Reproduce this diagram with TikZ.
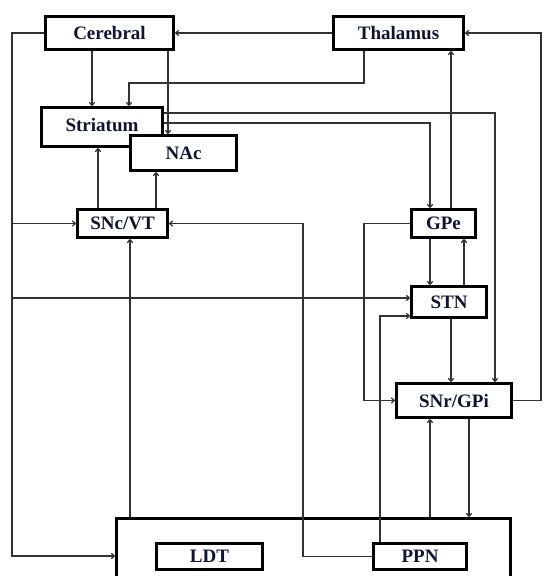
\documentclass[tikz,border=0pt]{standalone}
\usepackage{fontspec}
\setmainfont{Liberation Serif}
\usetikzlibrary{arrows.meta}
\definecolor{txt}{RGB}{15,20,55}
\definecolor{lin}{RGB}{50,50,50}
\tikzset{
  box/.style={draw=black, line width=3bp, fill=white, inner sep=0pt,
    text=txt, font=\fontsize{19bp}{21bp}\selectfont\bfseries},
  arr/.style={draw=lin, line width=1.2bp, -{To[length=4bp,width=6bp]}},
}
\begin{document}
\begin{tikzpicture}[x=1bp,y=-1bp]
\useasboundingbox (0,0) rectangle (544,576);
\fill[white] (0,0) rectangle (544,576);
\clip (0,0) rectangle (544,576);
% boxes
\node[box, minimum width=128bp, minimum height=33bp] (Cerebral) at (109.5,33) {Cerebral};
\node[box, minimum width=130bp, minimum height=33bp] (Thalamus) at (398.5,33) {Thalamus};
\node[box, minimum width=121bp, minimum height=39bp] (Striatum) at (102,127) {\raisebox{5bp}{Striatum}};
\node[box, minimum width=106bp, minimum height=35bp] (NAc) at (183.5,153) {NAc};
\node[box, minimum width=90bp, minimum height=28bp] (SNc) at (122.5,223.5) {SNc/VT};
\node[box, minimum width=64bp, minimum height=28bp] (GPe) at (443.5,223.5) {GPe};
\node[box, minimum width=75bp, minimum height=31bp] (STN) at (449,302) {STN};
\node[box, minimum width=115bp, minimum height=34bp] (SNr) at (454,400.5) {SNr/GPi};
\node[box, minimum width=394bp, minimum height=75bp] (Big) at (313.5,556) {};
\node[box, minimum width=106bp, minimum height=26bp] (LDT) at (209.5,556.5) {LDT};
\node[box, minimum width=93bp, minimum height=26bp] (PPN) at (420,556.5) {PPN};
% helper coordinates
\coordinate (xl) at (12,0);
\coordinate (xa) at (92,0);
\coordinate (xb) at (168,0);
\coordinate (xc) at (129,0);
\coordinate (xd) at (364,0);
\coordinate (xe) at (430,0);
\coordinate (xf) at (495,0);
\coordinate (xg) at (98,0);
\coordinate (xh) at (156,0);
\coordinate (xi) at (303,0);
\coordinate (xj) at (130,0);
\coordinate (xk) at (451,0);
\coordinate (xm) at (464,0);
\coordinate (xn) at (380,0);
\coordinate (xp) at (469,0);
\coordinate (xr) at (541,0);
\coordinate (y83) at (0,83);
\coordinate (y113) at (0,113);
\coordinate (y123) at (0,123);
\coordinate (y298) at (0,298);
\coordinate (y316) at (0,316);
% connectors
\draw[arr] (Thalamus.west) -- (Cerebral.east);
\draw[arr] (Cerebral.west) -- (Cerebral.west -| xl) -- (xl |- Big.west) -- (Big.west);
\draw[arr] (xl |- SNc.west) -- (SNc.west);
\draw[arr] (xl |- y298) -- (STN.west |- y298);
\draw[arr] (Cerebral.south -| xa) -- (Striatum.north -| xa);
\draw[arr] (Cerebral.south -| xb) -- (NAc.north -| xb);
\draw[arr] (Thalamus.south -| xd) -- (xd |- y83) -- (xc |- y83) -- (Striatum.north -| xc);
\draw[arr] (Striatum.east |- y123) -- (xe |- y123) -- (GPe.north -| xe);
\draw[arr] (Striatum.east |- y113) -- (xf |- y113) -- (SNr.north -| xf);
\draw[arr] (SNc.north -| xg) -- (Striatum.south -| xg);
\draw[arr] (SNc.north -| xh) -- (NAc.south -| xh);
\draw[arr] (PPN.west) -- (PPN.west -| xi) -- (xi |- SNc.east) -- (SNc.east);
\draw[arr] (Big.north -| xj) -- (SNc.south -| xj);
\draw[arr] (GPe.north -| xk) -- (Thalamus.south -| xk);
\draw[arr] (GPe.west) -- (GPe.west -| xd) -- (xd |- SNr.west) -- (SNr.west);
\draw[arr] (GPe.south -| xe) -- (STN.north -| xe);
\draw[arr] (STN.north -| xm) -- (GPe.south -| xm);
\draw[arr] (STN.south -| xk) -- (SNr.north -| xk);
\draw[arr] (SNr.east) -- (SNr.east -| xr) -- (xr |- Thalamus.east) -- (Thalamus.east);
\draw[arr] (PPN.north -| xn) -- (xn |- y316) -- (STN.west |- y316);
\draw[arr] (Big.north -| xe) -- (SNr.south -| xe);
\draw[arr] (SNr.south -| xp) -- (Big.north -| xp);
\end{tikzpicture}
\end{document}
